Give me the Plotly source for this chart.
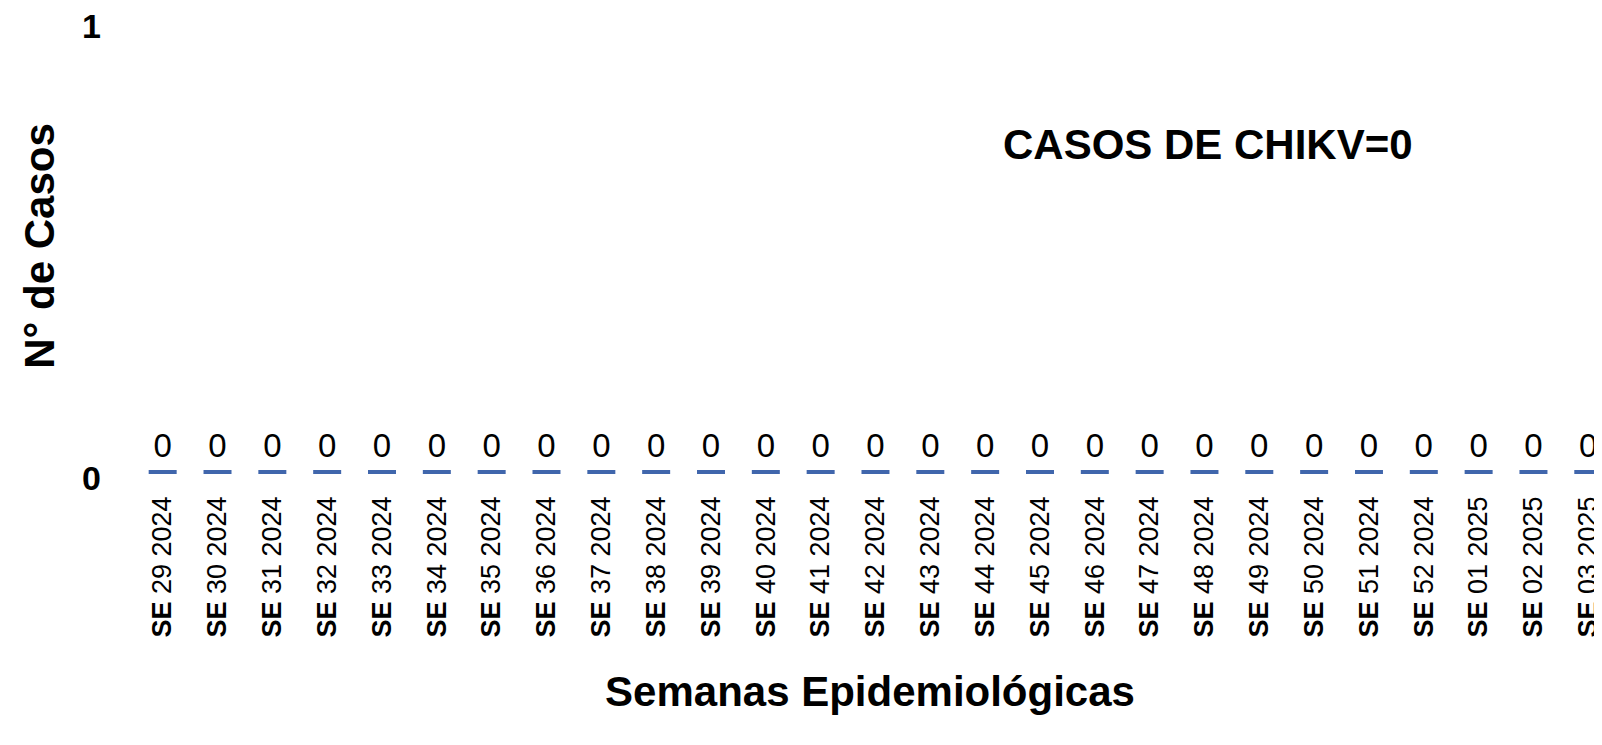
import plotly.graph_objects as go

semanas = ["SE 29 2024", "SE 30 2024", "SE 31 2024", "SE 32 2024", "SE 33 2024",
           "SE 34 2024", "SE 35 2024", "SE 36 2024", "SE 37 2024", "SE 38 2024",
           "SE 39 2024", "SE 40 2024", "SE 41 2024", "SE 42 2024", "SE 43 2024",
           "SE 44 2024", "SE 45 2024", "SE 46 2024", "SE 47 2024", "SE 48 2024",
           "SE 49 2024", "SE 50 2024", "SE 51 2024", "SE 52 2024", "SE 01 2025",
           "SE 02 2025", "SE 03 2025"]
casos = [0] * len(semanas)
ytick_vals = [0, 1]
ytick_text = ["<b>0</b>", "<b>1</b>"]

FONT = "Liberation Sans, Arial, sans-serif"
ticktext = ["<b>SE</b> " + s[3:] for s in semanas]

fig = go.Figure()
fig.add_trace(go.Scatter(
    x=semanas, y=casos, mode="markers",
    marker=dict(symbol="line-ew", size=20, line=dict(width=4, color="#4066AC")),
    cliponaxis=False, showlegend=False, hoverinfo="x+y",
))
fig.add_trace(go.Scatter(
    x=semanas, y=casos, mode="markers+text",
    text=[str(v) for v in casos], textposition="top center",
    textfont=dict(family=FONT, size=33, color="black"),
    marker=dict(size=9, color="rgba(0,0,0,0)"),
    cliponaxis=False, showlegend=False, hoverinfo="skip",
))

fig.update_layout(
    width=1594, height=737,
    margin=dict(l=130, r=0, t=12, b=273),
    paper_bgcolor="white", plot_bgcolor="white",
    font=dict(family=FONT, color="black"),
    xaxis=dict(
        type="category", tickmode="array", tickvals=semanas, ticktext=ticktext,
        tickangle=-90, tickfont=dict(family=FONT, size=27, color="black"),
        range=[-0.45, 26.25], showgrid=False, showline=False, zeroline=False,
        ticks="", ticklabelstandoff=18, automargin=False,
        title=dict(text="<b>Semanas Epidemiológicas</b>", font=dict(family=FONT, size=42, color="black"), standoff=40),
    ),
    yaxis=dict(
        range=[0, 1], tickmode="array", tickvals=ytick_vals, ticktext=ytick_text,
        tickfont=dict(family=FONT, size=34, color="black"),
        showgrid=False, showline=False, zeroline=False, ticks="",
        ticklabelstandoff=36, ticklabelshift=6, ticklabeloverflow="allow",
        automargin=False,
        title=dict(text="<b>N° de Casos</b>", font=dict(family=FONT, size=42, color="black"), standoff=14),
    ),
    annotations=[dict(
        text="<b>CASOS DE CHIKV=0</b>", x=0.872, y=0.78, xref="paper", yref="paper",
        showarrow=False, font=dict(family=FONT, size=42, color="black"),
    )],
)

fig.write_html("out.html")
